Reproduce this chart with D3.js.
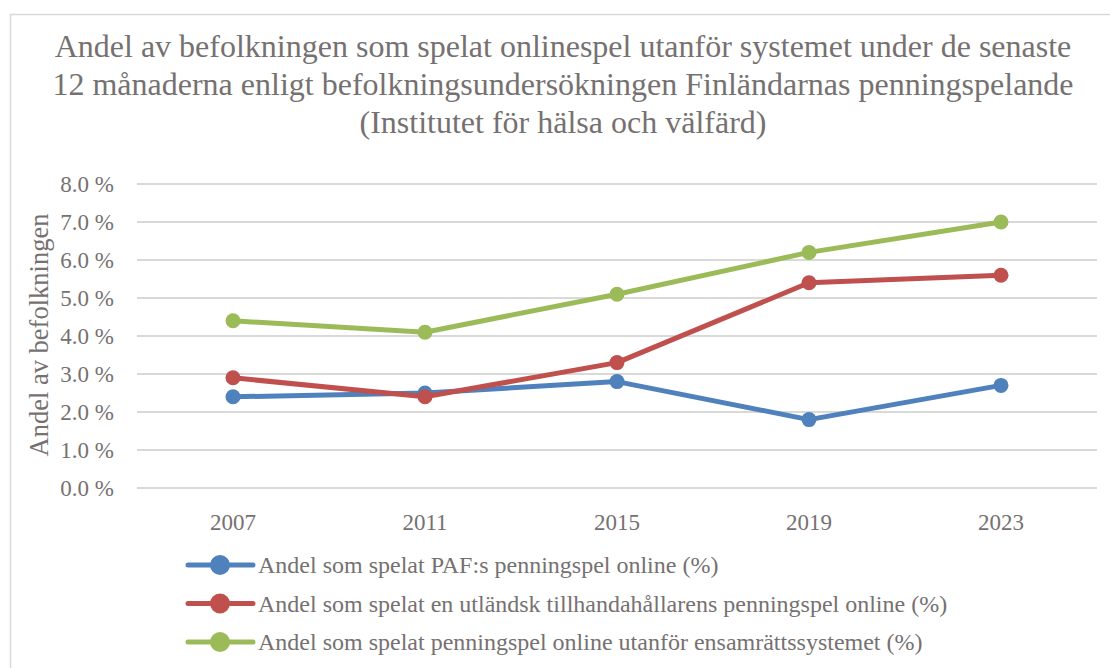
<!DOCTYPE html>
<meta charset="utf-8">
<style>
  body { margin: 0; background: #fff; }
  text { font-family: "Liberation Serif", "Times New Roman", serif; fill: #767171; }
</style>
<body>
<svg width="1110" height="668"></svg>
<script src="https://d3js.org/d3.v7.min.js"></script>
<script>

var years = ["2007", "2011", "2015", "2019", "2023"];
var paf = [2.4, 2.5, 2.8, 1.8, 2.7];
var foreign = [2.9, 2.4, 3.3, 5.4, 5.6];
var outside = [4.4, 4.1, 5.1, 6.2, 7.0];
var seriesNames = [
  "Andel som spelat PAF:s penningspel online (%)",
  "Andel som spelat en utländsk tillhandahållarens penningspel online (%)",
  "Andel som spelat penningspel online utanför ensamrättssystemet (%)"
];
var colors = ["#4f81bd", "#c0504d", "#9bbb59"];
var yTicks = [0, 1, 2, 3, 4, 5, 6, 7, 8];
var titleLines = [
  "Andel av befolkningen som spelat onlinespel utanför systemet under de senaste",
  "12 månaderna enligt befolkningsundersökningen Finländarnas penningspelande",
  "(Institutet för hälsa och välfärd)"
];

var series = [paf, foreign, outside];

var svg = d3.select("svg");

// chart border
svg.append("rect")
    .attr("x", 10.5).attr("y", 14.5)
    .attr("width", 1110).attr("height", 700)
    .attr("fill", "none")
    .attr("stroke", "#d9d9d9")
    .attr("stroke-width", 1.5);

svg.append("g").selectAll("text")
  .data(titleLines)
  .enter().append("text")
    .attr("x", 563)
    .attr("y", (d, i) => 57 + i * 38)
    .attr("text-anchor", "middle")
    .style("font-size", "32px")
    .text(d => d);

var x = d3.scaleBand().domain(years).range([137, 1097]);
var y = d3.scaleLinear().domain([0, 8]).range([488, 184]);

// gridlines
svg.append("g").selectAll("line")
  .data(yTicks)
  .enter().append("line")
    .attr("x1", 137).attr("x2", 1097)
    .attr("y1", d => y(d)).attr("y2", d => y(d))
    .attr("stroke", "#d9d9d9")
    .attr("stroke-width", 2);

svg.append("g").selectAll("text")
  .data(yTicks)
  .enter().append("text")
    .attr("x", 114)
    .attr("y", d => y(d) + 8)
    .attr("text-anchor", "end")
    .style("font-size", "23px")
    .text(d => d.toFixed(1) + " %");

svg.append("g").selectAll("text")
  .data(years)
  .enter().append("text")
    .attr("x", d => x(d) + x.bandwidth() / 2)
    .attr("y", 530)
    .attr("text-anchor", "middle")
    .style("font-size", "23px")
    .text(d => d);

svg.append("text")
    .attr("transform", "translate(48,335) rotate(-90)")
    .attr("text-anchor", "middle")
    .style("font-size", "26.5px")
    .text("Andel av befolkningen");

var line = d3.line()
    .x((d, i) => x(years[i]) + x.bandwidth() / 2)
    .y(d => y(d));

series.forEach(function(s, k) {
  var g = svg.append("g");
  g.append("path")
      .attr("d", line(s))
      .attr("fill", "none")
      .attr("stroke", colors[k])
      .attr("stroke-width", 5)
      .attr("stroke-linejoin", "round");
  g.selectAll("circle")
    .data(s)
    .enter().append("circle")
      .attr("cx", (d, i) => x(years[i]) + x.bandwidth() / 2)
      .attr("cy", d => y(d))
      .attr("r", 7.5)
      .attr("fill", colors[k]);
});

// legend
var legend = svg.append("g").selectAll("g")
  .data(seriesNames)
  .enter().append("g")
    .attr("transform", (d, i) => "translate(0," + (565 + i * 38.5) + ")");

legend.append("line")
    .attr("x1", 188).attr("x2", 253)
    .attr("stroke", (d, i) => colors[i])
    .attr("stroke-width", 5)
    .attr("stroke-linecap", "round");
legend.append("circle")
    .attr("cx", 220).attr("r", 10)
    .attr("fill", (d, i) => colors[i]);
legend.append("text")
    .attr("x", 258).attr("y", 8)
    .style("font-size", "24px")
    .text(d => d);

</script>
